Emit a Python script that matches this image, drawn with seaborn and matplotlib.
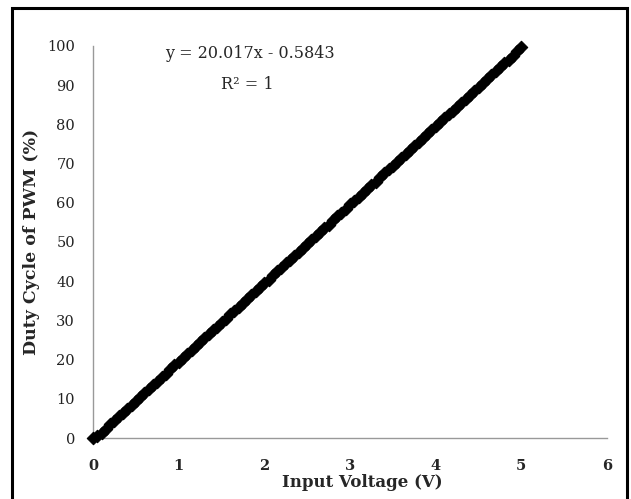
import matplotlib
matplotlib.use("Agg")
import matplotlib.pyplot as plt
import seaborn as sns
import pandas as pd
from matplotlib.patches import Rectangle

# measured points (input voltage vs duty cycle)
voltage = [0.00, 0.05, 0.10, 0.15, 0.20, 0.25, 0.30, 0.35, 0.40, 0.45,
           0.50, 0.55, 0.60, 0.65, 0.70, 0.75, 0.80, 0.85, 0.90, 0.95,
           1.00, 1.05, 1.10, 1.15, 1.20, 1.25, 1.30, 1.35, 1.40, 1.45,
           1.50, 1.55, 1.60, 1.65, 1.70, 1.75, 1.80, 1.85, 1.90, 1.95,
           2.00, 2.05, 2.10, 2.15, 2.20, 2.25, 2.30, 2.35, 2.40, 2.45,
           2.50, 2.55, 2.60, 2.65, 2.70, 2.75, 2.80, 2.85, 2.90, 2.95,
           3.00, 3.05, 3.10, 3.15, 3.20, 3.25, 3.30, 3.35, 3.40, 3.45,
           3.50, 3.55, 3.60, 3.65, 3.70, 3.75, 3.80, 3.85, 3.90, 3.95,
           4.00, 4.05, 4.10, 4.15, 4.20, 4.25, 4.30, 4.35, 4.40, 4.45,
           4.50, 4.55, 4.60, 4.65, 4.70, 4.75, 4.80, 4.85, 4.90, 4.95,
           5.00]
duty = [0.0, 0.5, 1.4, 2.4, 3.5, 4.4, 5.5, 6.4, 7.5, 8.4,
        9.4, 10.5, 11.5, 12.5, 13.4, 14.4, 15.5, 16.4, 17.6, 18.5,
        19.4, 20.4, 21.5, 22.4, 23.5, 24.4, 25.5, 26.5, 27.5, 28.4,
        29.5, 30.4, 31.5, 32.4, 33.5, 34.5, 35.5, 36.4, 37.6, 38.5,
        39.5, 40.4, 41.5, 42.5, 43.4, 44.5, 45.5, 46.4, 47.5, 48.5,
        49.4, 50.5, 51.4, 52.5, 53.5, 54.4, 55.5, 56.5, 57.4, 58.5,
        59.6, 60.5, 61.4, 62.5, 63.5, 64.5, 65.4, 66.5, 67.5, 68.5,
        69.4, 70.5, 71.5, 72.5, 73.5, 74.5, 75.5, 76.4, 77.5, 78.5,
        79.5, 80.5, 81.5, 82.5, 83.5, 84.5, 85.5, 86.5, 87.5, 88.5,
        89.5, 90.5, 91.5, 92.5, 93.5, 94.5, 95.6, 96.5, 97.5, 98.6,
        99.8]

fit_text = "y = 20.017x - 0.5843"
r2_text = "R² = 1"

sns.set_style("white")
plt.rcParams['font.family'] = ['DejaVu Serif']

df = pd.DataFrame({"v": voltage, "d": duty})

fig = plt.figure(figsize=(6.31, 4.99), dpi=100)
ax = fig.add_axes([0.1474, 0.1222, 0.8146, 0.786])

sns.scatterplot(data=df, x="v", y="d", ax=ax, marker="D", s=40,
                color="black", edgecolor="black", linewidth=0.8,
                legend=False, clip_on=False, zorder=3)

ax.set_xlim(0, 6)
ax.set_ylim(0, 100)
ax.set_xticks(range(0, 7))
ax.set_yticks(range(0, 101, 10))
ax.tick_params(axis="y", length=0, pad=13)
ax.tick_params(axis="x", length=0, pad=15)
for lab in ax.get_xticklabels():
    lab.set_fontweight("bold")
    lab.set_fontsize(10.5)
for lab in ax.get_yticklabels():
    lab.set_fontsize(10.5)
    lab.set_color("#222222")

for side in ["top", "right"]:
    ax.spines[side].set_visible(False)
for side in ["left", "bottom"]:
    ax.spines[side].set_color("#999999")
    ax.spines[side].set_linewidth(1)

ax.set_xlabel("Input Voltage (V)", fontsize=12, fontweight="bold", labelpad=3)
ax.xaxis.set_label_coords(0.523, -0.093)
ax.set_ylabel("Duty Cycle of PWM (%)", fontsize=12.5, fontweight="bold", labelpad=5)

ax.text(1.83, 98.0, fit_text, ha="center", va="center", fontsize=11.5)
ax.text(1.80, 90.2, r2_text, ha="center", va="center", fontsize=11.5)

# black frame round the whole chart
fig.patches.append(Rectangle((0.0185, -0.05), 0.9755, 1.034,
                             transform=fig.transFigure, fill=False,
                             edgecolor="black", linewidth=2.2))

fig.savefig("out.png", dpi=100)
